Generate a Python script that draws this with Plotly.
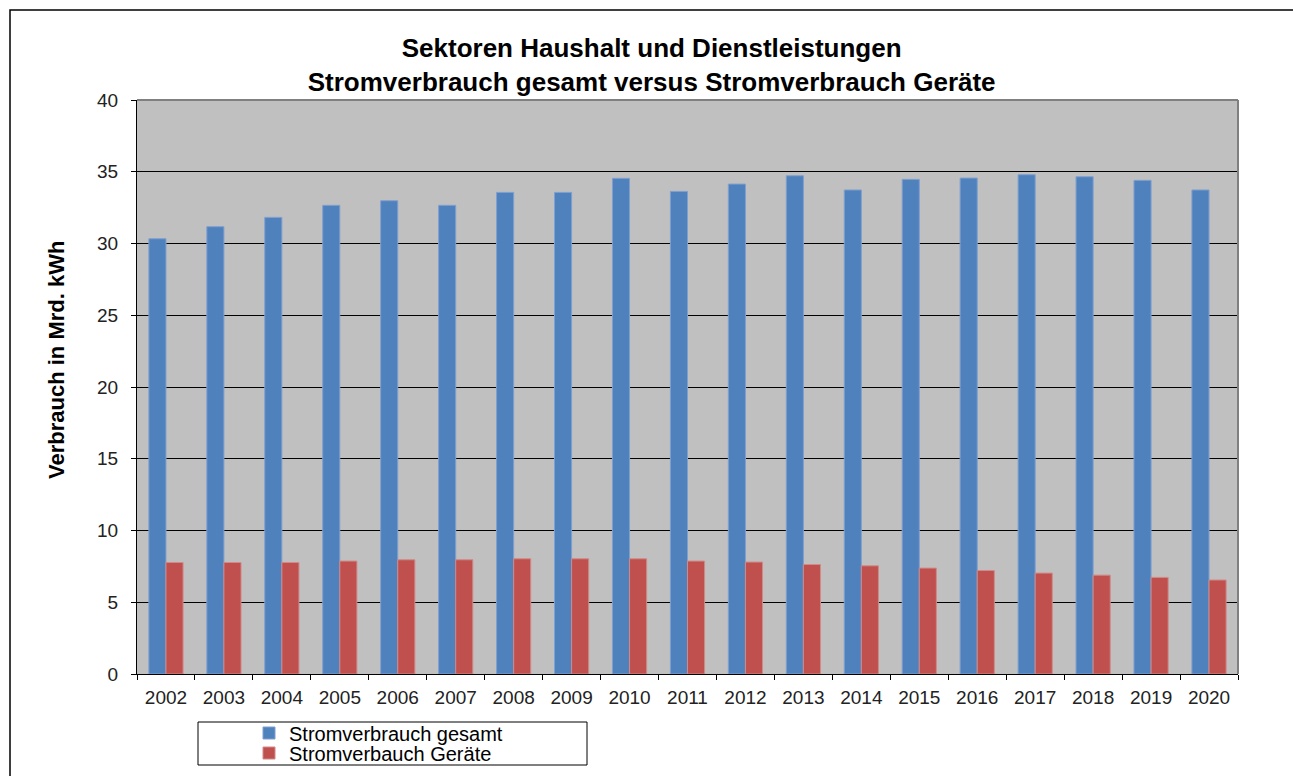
import plotly.graph_objects as go

years = [str(y) for y in range(2002, 2021)]
gesamt = [30.33, 31.17, 31.82, 32.66, 32.98, 32.66, 33.56, 33.56, 34.54, 33.63,
          34.14, 34.72, 33.73, 34.47, 34.56, 34.79, 34.65, 34.40, 33.73]
geraete = [7.77, 7.77, 7.77, 7.87, 7.96, 7.96, 8.03, 8.03, 8.03, 7.87,
           7.80, 7.63, 7.54, 7.38, 7.21, 7.03, 6.89, 6.73, 6.55]
y_ticks = [0, 5, 10, 15, 20, 25, 30, 35, 40]

FONT = "Liberation Sans, Arial, sans-serif"

fig = go.Figure()
fig.add_trace(go.Bar(x=years, y=gesamt, name="Stromverbrauch gesamt", legend="legend",
                     marker=dict(color="#4f81bd", line=dict(color="#7f9fcf", width=1))))
fig.add_trace(go.Bar(x=years, y=geraete, name="Stromverbauch Geräte", legend="legend2",
                     marker=dict(color="#c0504d", line=dict(color="#d08a88", width=1))))

L, R, T, B = 137, 55, 100, 102
W, H = 1293, 776
pw = W - L - R
ph = H - T - B

def px_x(x):
    return (x - L) / pw

def px_y(y):
    return (H - B - y) / ph

leg_common = dict(xref="container", yref="container", xanchor="left", yanchor="middle",
                  bgcolor="rgba(0,0,0,0)", borderwidth=0,
                  font=dict(family=FONT, size=20, color="#000"), itemwidth=30)

fig.update_layout(
    width=W, height=H,
    margin=dict(l=L, r=R, t=T, b=B, pad=0, autoexpand=False),
    paper_bgcolor="white",
    plot_bgcolor="#c0c0c0",
    barmode="group",
    bargap=0.41,
    bargroupgap=0,
    font=dict(family=FONT, size=19, color="#222"),
    title=dict(text="<b>Sektoren Haushalt und Dienstleistungen<br>Stromverbrauch gesamt versus Stromverbrauch Geräte</b>",
               x=0.504, xanchor="center", xref="container",
               y=1 - 57 / H, yanchor="middle", yref="container",
               font=dict(family=FONT, size=26, color="#000")),
    xaxis=dict(showgrid=False, showline=True, linecolor="#000", linewidth=1,
               ticks="outside", tickson="boundaries", ticklen=5, tickcolor="#000",
               tickfont=dict(size=19, color="#222"), mirror=False, tickangle=0,
               ticklabelstandoff=6),
    yaxis=dict(range=[0, 40], tickvals=y_ticks, showgrid=True, gridcolor="#000",
               gridwidth=1, showline=True, linecolor="#000", linewidth=1,
               ticks="outside", ticklen=5, tickcolor="#000",
               tickfont=dict(size=19, color="#222"), zeroline=False,
               ticklabelstandoff=9),
    showlegend=True,
    legend=dict(x=249 / W, y=1 - 733 / H, **leg_common),
    legend2=dict(x=249 / W, y=1 - 753 / H, **leg_common),
)

shapes = [
    dict(type="line", xref="paper", yref="paper", x0=0, x1=1, y0=1, y1=1,
         line=dict(color="#808080", width=2)),
    dict(type="line", xref="paper", yref="paper", x0=1, x1=1, y0=0, y1=1,
         line=dict(color="#808080", width=2)),
    dict(type="rect", xref="paper", yref="paper",
         x0=px_x(198), x1=px_x(587), y0=px_y(765), y1=px_y(722),
         line=dict(color="#000", width=1), fillcolor="rgba(0,0,0,0)"),
    dict(type="rect", xref="paper", yref="paper",
         x0=px_x(10), x1=px_x(1400), y0=px_y(900), y1=px_y(10),
         line=dict(color="#000", width=1.5), fillcolor="rgba(0,0,0,0)", layer="below"),
]
fig.update_layout(shapes=shapes)

fig.add_annotation(text="<b>Verbrauch in Mrd. kWh</b>", textangle=-90,
                   xref="paper", yref="paper", x=px_x(56), y=px_y(360),
                   xanchor="center", yanchor="middle", showarrow=False,
                   font=dict(family=FONT, size=22, color="#000"))

fig.write_html("out.html", config={"displayModeBar": False},
               post_script="document.body.style.margin='0';document.body.style.overflow='hidden';")
